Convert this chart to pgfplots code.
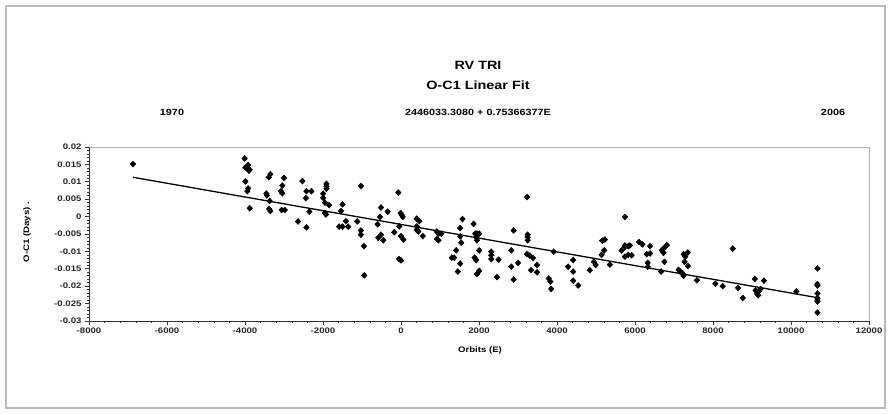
\documentclass[border=0pt]{standalone}
\usepackage{fontspec}
\setmainfont{Liberation Sans}
\newfontfamily\cf[FakeStretch=1.2]{Liberation Sans}
\usepackage{pgfplots}
\pgfplotsset{compat=1.18}
\begin{document}
\begin{tikzpicture}[x=1pt,y=1pt]
\useasboundingbox (0,0) rectangle (891,414);
\draw[gray!55, line width=1.6pt] (6,6) rectangle (885,408);
\begin{axis}[at={(89pt,93pt)}, anchor=south west, scale only axis,
  width=780pt, height=174pt, xmin=-8000, xmax=12000, ymin=-0.03, ymax=0.02,
  axis line style={gray!60, line width=0.9pt}, xtick=\empty, ytick=\empty]
\end{axis}
\begin{axis}[at={(89pt,93pt)}, anchor=south west, scale only axis,
  width=780pt, height=174pt, xmin=-8000, xmax=12000, ymin=-0.03, ymax=0.02,
  scaled x ticks=false, scaled y ticks=false,
  axis x line*=bottom, axis y line*=left,
  axis line style={black!80, line width=0.8pt},
  xtick={-8000,-6000,-4000,-2000,0,2000,4000,6000,8000,10000,12000},
  xticklabels={-8000,-6000,-4000,-2000,0,2000,4000,6000,8000,10000,12000},
  ytick={-0.03,-0.025,-0.02,-0.015,-0.01,-0.005,0,0.005,0.01,0.015,0.02},
  yticklabels={-0.03,-0.025,-0.02,-0.015,-0.01,-0.005,0,0.005,0.01,0.015,0.02},
  minor x tick num=4, minor y tick num=4,
  tick align=outside, major tick length=4pt, minor tick length=2.5pt,
  tick style={black!80, line width=0.6pt},
  ticklabel style={font=\cf\bfseries\fontsize{8}{9}\selectfont, text=black!85},
  xticklabel style={yshift=1pt},
  clip=false]
\addplot[only marks, mark=diamond*, mark size=3pt, mark options={xscale=1.25}, black] coordinates {
(-6872,0.0151) (-4009,0.0167) (-3990,0.0141) (-3950,0.0141) (-3920,0.0148)
(-3900,0.0132) (-3880,0.0135) (-3990,0.0101) (-3940,0.0073) (-3920,0.0081)
(-3880,0.0024) (-3453,0.0066) (-3440,0.0061) (-3390,0.0113) (-3350,0.0122)
(-3370,0.0045) (-3380,0.0022) (-3350,0.0016) (-3043,0.0089) (-3043,0.0067)
(-3080,0.0073) (-3000,0.0111) (-3060,0.0019) (-2980,0.0019) (-2640,-0.0014)
(-2528,0.0102) (-2425,0.0073) (-2297,0.0073) (-2440,0.0053) (-2350,0.0014)
(-2425,-0.0031) (-1911,0.0094) (-1911,0.0087) (-1911,0.0080) (-1997,0.0066)
(-1997,0.0054) (-1950,0.0040) (-1843,0.0033) (-1950,0.0010) (-1925,0.0006)
(-1500,0.0035) (-1540,0.0016) (-1414,-0.0013) (-1585,-0.0029) (-1500,-0.0029)
(-1354,-0.0029) (-1028,0.0088) (-1123,-0.0014) (-1028,-0.0040) (-1028,-0.0052)
(-951,-0.0085) (-943,-0.0169) (-514,0.0026) (-540,-0.0001) (-343,0.0014)
(-600,-0.0022) (-514,-0.0052) (-583,-0.0061) (-454,-0.0068) (-69,0.0069)
(-171,-0.0045) (-43,-0.0028) (-9,0.0010) (17,0.0005) (43,-0.0001)
(0,-0.0056) (60,-0.0066) (-51,-0.0122) (0,-0.0126) (403,-0.0006)
(471,-0.0013) (403,-0.0028) (403,-0.0038) (446,-0.0043) (557,-0.0056)
(920,-0.0043) (960,-0.0049) (1030,-0.0049) (920,-0.0064) (960,-0.0068)
(1577,-0.0007) (1517,-0.0033) (1517,-0.0057) (1543,-0.0075) (1414,-0.0097)
(1363,-0.0118) (1303,-0.0118) (1457,-0.0158) (1517,-0.0135) (1860,-0.0021)
(1903,-0.0049) (1946,-0.0049) (2005,-0.0049) (1929,-0.0059) (1946,-0.0068)
(2005,-0.0097) (1886,-0.0118) (1929,-0.0125) (1946,-0.0165) (2005,-0.0156)
(2314,-0.0101) (2314,-0.0111) (2314,-0.0122) (2502,-0.0124) (2460,-0.0174)
(2888,-0.0040) (2828,-0.0097) (2828,-0.0144) (3000,-0.0133) (2888,-0.0181)
(3248,-0.0052) (3248,-0.0059) (3248,-0.0068) (3231,0.0056) (3231,-0.0108)
(3300,-0.0112) (3385,-0.0119) (3334,-0.0154) (3488,-0.0139) (3488,-0.0160)
(3916,-0.0101) (3790,-0.0178) (3830,-0.0187) (3850,-0.0208) (4414,-0.0125)
(4285,-0.0144) (4414,-0.0158) (4414,-0.0184) (4542,-0.0198) (4945,-0.0130)
(4990,-0.0139) (4840,-0.0154) (5142,-0.0110) (5210,-0.0097) (5159,-0.0069)
(5227,-0.0066) (5356,-0.0138) (5742,-0.0001) (5656,-0.0097) (5742,-0.0087)
(5828,-0.0085) (5742,-0.0083) (5870,-0.0083) (5742,-0.0115) (5828,-0.0110)
(5914,-0.0111) (6103,-0.0073) (6189,-0.0080) (6386,-0.0085) (6300,-0.0108)
(6386,-0.0106) (6326,-0.0133) (6326,-0.0144) (6687,-0.0097) (6755,-0.0089)
(6815,-0.0082) (6730,-0.0104) (6755,-0.0130) (6670,-0.0158) (7116,-0.0153)
(7160,-0.0158) (7220,-0.0163) (7245,-0.0170) (7245,-0.0108) (7288,-0.0115)
(7356,-0.0103) (7270,-0.0130) (7356,-0.0142) (7588,-0.0183) (8060,-0.0193)
(8249,-0.0200) (8507,-0.0092) (8644,-0.0205) (8764,-0.0234) (9073,-0.0179)
(9305,-0.0184) (9090,-0.0212) (9175,-0.0214) (9220,-0.0208) (9130,-0.0222)
(9160,-0.0226) (10138,-0.0215) (10678,-0.0149) (10678,-0.0194) (10678,-0.0198)
(10678,-0.0221) (10678,-0.0234) (10678,-0.0240) (10678,-0.0244) (10678,-0.0276)
};
\addplot[black, line width=1.3pt, no marks] coordinates {(-6872,0.0113) (10678,-0.0233)};
\end{axis}
\node[font=\cf\bfseries\fontsize{12}{14}\selectfont] at (478,349) {RV TRI};
\node[font=\cf\bfseries\fontsize{12}{14}\selectfont] at (478,329) {O-C1 Linear Fit};
\node[font=\cf\bfseries\fontsize{9}{11}\selectfont] at (172,302) {1970};
\node[font=\cf\bfseries\fontsize{9}{11}\selectfont] at (478,302) {2446033.3080 + 0.75366377E};
\node[font=\cf\bfseries\fontsize{9}{11}\selectfont] at (833,302) {2006};
\node[font=\cf\bfseries\fontsize{8}{9}\selectfont, rotate=90] at (27,182) {O-C1 (Days) .};
\node[font=\cf\bfseries\fontsize{8}{9}\selectfont] at (480,64) {Orbits (E)};
\end{tikzpicture}
\end{document}
